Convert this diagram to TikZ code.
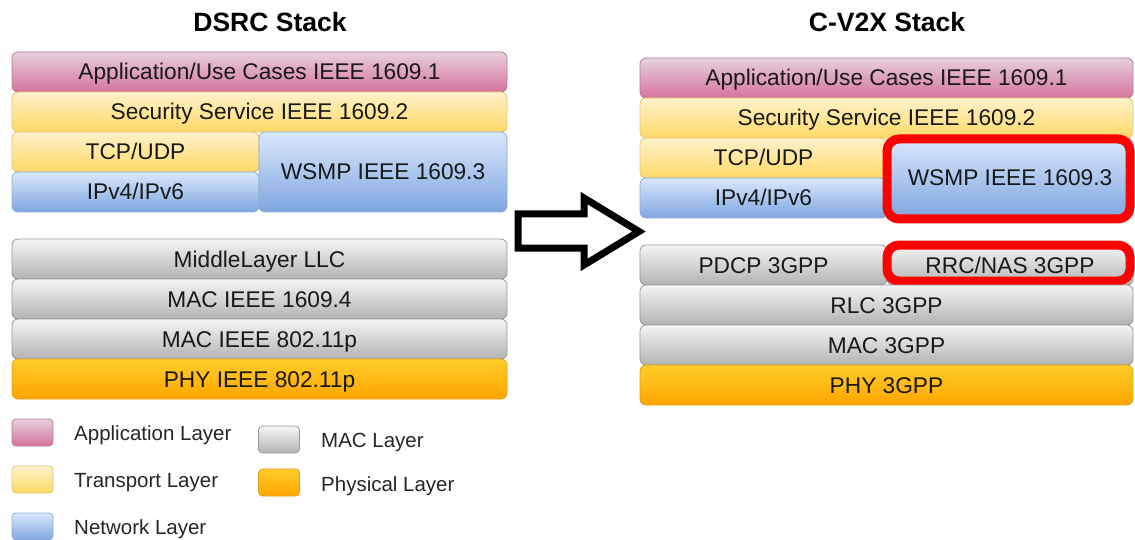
\documentclass[tikz,border=0pt]{standalone}
\usepackage{fontspec}
\setmainfont{Liberation Sans}
\definecolor{appTop}{HTML}{E6D0DE}\definecolor{appBot}{HTML}{D5739D}\definecolor{appLine}{HTML}{B97A98}
\definecolor{trTop}{HTML}{FFF2CC}\definecolor{trBot}{HTML}{FFD966}\definecolor{trLine}{HTML}{E0C46E}
\definecolor{nwTop}{HTML}{DAE8FC}\definecolor{nwBot}{HTML}{7EA6E0}\definecolor{nwLine}{HTML}{8EAAD4}
\definecolor{mcTop}{HTML}{F5F5F5}\definecolor{mcBot}{HTML}{B3B3B3}\definecolor{mcLine}{HTML}{999999}
\definecolor{phTop}{HTML}{FFCD28}\definecolor{phBot}{HTML}{FFA500}\definecolor{phLine}{HTML}{E6A020}
\definecolor{hilite}{HTML}{FF0000}
\begin{document}
\begin{tikzpicture}[x=1pt,y=-1pt,
  layer/.style={draw, line width=0.8pt, rounded corners=6pt, inner sep=0pt,
    text height=16pt, text depth=0pt,
    font=\fontsize{22.7}{27}\selectfont, text=black!90},
  app/.style={layer, top color=appTop, bottom color=appBot, draw=appLine},
  trn/.style={layer, top color=trTop, bottom color=trBot, draw=trLine},
  net/.style={layer, top color=nwTop, bottom color=nwBot, draw=nwLine},
  mac/.style={layer, top color=mcTop, bottom color=mcBot, draw=mcLine},
  phy/.style={layer, top color=phTop, bottom color=phBot, draw=phLine},
  full/.style={minimum width=495pt, minimum height=40pt},
  half/.style={minimum width=247pt, minimum height=40pt},
  swatch/.style={minimum width=41pt, minimum height=27pt, rounded corners=4pt},
  legtext/.style={anchor=west, inner sep=0pt, text height=14.7pt, text depth=0pt,
    font=\fontsize{20.5}{24}\selectfont, text=black!85},
  title/.style={font=\bfseries\fontsize{26.5}{30}\selectfont, text height=19pt, text depth=0pt},
  highlight/.style={draw=hilite, line width=9pt, rounded corners=12pt}]
\useasboundingbox (0,0) rectangle (1135,540);

% ---------- DSRC stack ----------
\node[title] (t1) at (270,22) {DSRC Stack};
\node[app, full] (d1) at (259.5,72) {Application/Use Cases IEEE 1609.1};
\node[trn, full] (d2) at (259.5,112) {Security Service IEEE 1609.2};
\node[trn, half] (d3) at (135.5,152) {TCP/UDP};
\node[net, half] (d4) at (135.5,192) {IPv4/IPv6};
\node[net, minimum width=248pt, minimum height=80pt] (d5) at (383,172) {WSMP IEEE 1609.3};
\node[mac, full] (d6) at (259.5,259) {MiddleLayer LLC};
\node[mac, full] (d7) at (259.5,299) {MAC IEEE 1609.4};
\node[mac, full] (d8) at (259.5,339) {MAC IEEE 802.11p};
\node[phy, full] (d9) at (259.5,379) {PHY IEEE 802.11p};

% ---------- transition arrow ----------
\draw[line width=7pt, line join=miter, fill=white]
  (518,214) -- (584,214) -- (584,198) -- (639,231.5) -- (584,265) -- (584,248) -- (518,248) -- cycle;

% ---------- C-V2X stack ----------
\node[title] (t2) at (887,22) {C-V2X Stack};
\node[app, minimum width=493pt, minimum height=40pt] (c1) at (886.5,78) {Application/Use Cases IEEE 1609.1};
\node[trn, minimum width=493pt, minimum height=40pt] (c2) at (886.5,118) {Security Service IEEE 1609.2};
\node[trn, half] (c3) at (763.5,158) {TCP/UDP};
\node[net, half] (c4) at (763.5,198) {IPv4/IPv6};
\node[net, minimum width=246pt, minimum height=80pt] (c5) at (1010,178) {WSMP IEEE 1609.3};
\draw[highlight] (887,139) rectangle (1130,219);
\node[mac, half] (c6) at (763.5,265) {PDCP 3GPP};
\node[mac, minimum width=246pt, minimum height=40pt] (c7) at (1010,265) {RRC/NAS 3GPP};
\draw[highlight] (887,245) rectangle (1130,281);
\node[mac, minimum width=493pt, minimum height=40pt] (c8) at (886.5,305) {RLC 3GPP};
\node[mac, minimum width=493pt, minimum height=40pt] (c9) at (886.5,345) {MAC 3GPP};
\node[phy, minimum width=493pt, minimum height=40pt] (c10) at (886.5,385) {PHY 3GPP};

% ---------- legend ----------
\node[app, swatch] (s1) at (32.5,432.5) {};
\node[legtext] (l1) at (74,433.5) {Application Layer};
\node[trn, swatch] (s2) at (32.5,479.5) {};
\node[legtext] (l2) at (74,480.5) {Transport Layer};
\node[net, swatch] (s3) at (32.5,526.5) {};
\node[legtext] (l3) at (74,527.5) {Network Layer};
\node[mac, swatch] (s4) at (279,439.5) {};
\node[legtext] (l4) at (321,440.5) {MAC Layer};
\node[phy, swatch] (s5) at (279,482.5) {};
\node[legtext] (l5) at (321,484) {Physical Layer};
\end{tikzpicture}
\end{document}
